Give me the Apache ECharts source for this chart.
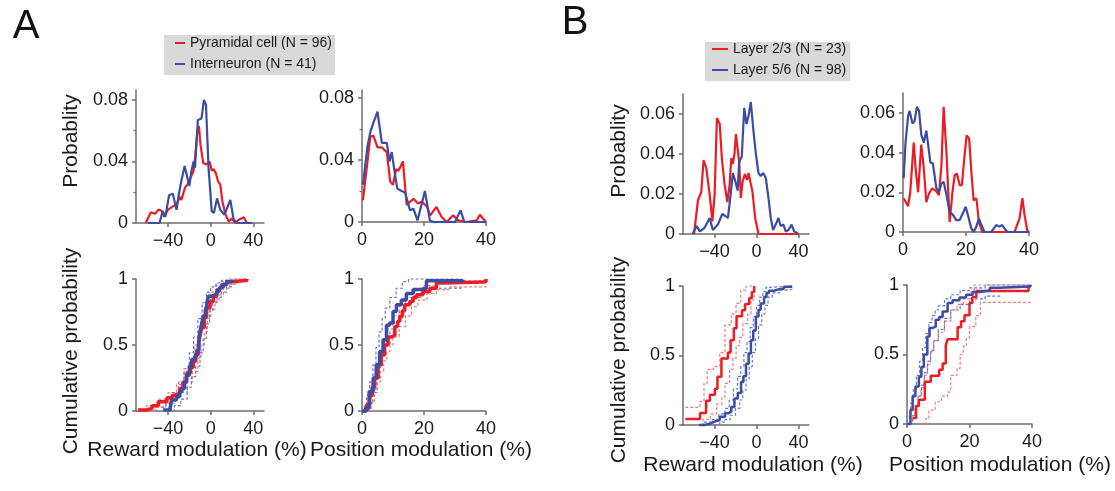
<!DOCTYPE html>
<html><head><meta charset="utf-8">
<script src="https://cdn.jsdelivr.net/npm/echarts@6/dist/echarts.min.js"></script>
<style>html,body{margin:0;padding:0;background:#fff}#c{width:1115px;height:491px}</style>
</head><body><div id="c"></div>
<script>
// ---------- tick labels ----------
const xTicksReward = [-40, 0, 40];
const xTicksPosition = [0, 20, 40];
const yTicksProbA = [0, 0.04, 0.08];
const yMinorProbA = [0.02, 0.06];
const yTicksProbB = [0, 0.02, 0.04, 0.06];
const yTicksCdf = [0, 0.5, 1];

// ---------- names ----------
const namesA = ['Pyramidal cell (N = 96)', 'Interneuron (N = 41)'];
const namesB = ['Layer 2/3 (N = 23)', 'Layer 5/6 (N = 98)'];

// ---------- Panel A: probability ----------
const aRewProbPyr = [[-61,0],[-56,0.007],[-52,0.006],[-49,0.0087],[-46,0.008],[-43.5,0.004],[-40,0.0087],[-35,0.011],[-32,0.012],[-29,0.017],[-27.5,0.015],[-24,0.023],[-21,0.026],[-16,0.034],[-15,0.04],[-12.5,0.059],[-11,0.063],[-9.5,0.051],[-7,0.039],[-4,0.038],[-1,0.04],[1,0.034],[3,0.035],[5,0.032],[7,0.027],[9,0.025],[11,0.014],[14,0.0054],[17,0.001],[20,0.003],[23,0],[26,0.002],[31,0.0037],[34,0],[37,0]];
const aRewProbInt = [[-59,0],[-48,0],[-45,0.0076],[-42.5,0.004],[-39,0.018],[-35.5,0.019],[-32,0.0086],[-30,0.018],[-27.6,0.027],[-24.4,0.037],[-22,0.03],[-20,0.024],[-18,0.034],[-16,0.04],[-14.7,0.036],[-12,0.067],[-8.6,0.068],[-6.3,0.08],[-4.4,0.077],[-2,0.036],[1,0.0076],[3,0.0065],[6,0.016],[9,0.0086],[13,0.0054],[18.4,0.015],[21.6,0.002],[25,0],[39,0]];
const aPosProbPyr = [[0.3,0.014],[2.7,0.055],[3.7,0.0555],[5,0.048],[6.4,0.048],[8,0.045],[9.1,0.026],[10,0.024],[11,0.034],[11.8,0.033],[13.2,0.039],[14.4,0.011],[16.6,0.015],[18,0.012],[19.3,0.013],[20.9,0.010],[22,0.0043],[24,0.0097],[25.7,0.0032],[27.3,0],[29.4,0.0043],[31,0.001],[33.7,0],[37,0.001],[38,0.0047],[40,0]];
const aPosProbInt = [[0.3,0.024],[1.8,0.049],[2.7,0.058],[3.7,0.064],[5,0.071],[6.4,0.051],[8,0.051],[8.9,0.039],[9.6,0.045],[10.7,0.030],[11.4,0.0215],[12.8,0.020],[13.9,0.019],[15.5,0.0075],[16.6,0.0086],[17.9,0.001],[19.3,0.012],[20.3,0.020],[21.9,0.001],[23,0],[30,0],[31.8,0.0075],[33,0],[40,0]];

// ---------- Panel A: cumulative ----------
const aRewCdfPyr = [[-68,0.008],[-60,0.02],[-55,0.04],[-49,0.07],[-41,0.1],[-36,0.12],[-33.5,0.134],[-29,0.17],[-26,0.22],[-22.6,0.286],[-19,0.33],[-16.3,0.375],[-14,0.43],[-11.6,0.5],[-10,0.57],[-8.5,0.63],[-6,0.71],[-3.8,0.78],[-0.6,0.83],[2.5,0.87],[5.6,0.905],[8,0.93],[10.3,0.957],[15,0.98],[21,0.99],[34,1]];
const aRewCdfInt = [[-44.5,0.008],[-38,0.024],[-36.7,0.084],[-32,0.11],[-29,0.146],[-27,0.17],[-24.5,0.22],[-22.6,0.27],[-20,0.34],[-17.9,0.39],[-15,0.415],[-13,0.46],[-11,0.54],[-10,0.6],[-8.5,0.66],[-6.9,0.72],[-5,0.76],[-3.8,0.8],[-2.2,0.87],[0.9,0.88],[4,0.89],[6,0.92],[8.8,0.94],[12,0.96],[15,0.98],[20,0.99]];
const aRewBandPyrHi = [[-68,0.015],[-60,0.04],[-50,0.09],[-40,0.14],[-32,0.2],[-25,0.3],[-20,0.38],[-15,0.5],[-12,0.6],[-8,0.72],[-4,0.84],[0,0.9],[5,0.95],[10,0.98],[15,1],[34,1]];
const aRewBandPyrLo = [[-62,0],[-52,0.03],[-42,0.06],[-34,0.1],[-28,0.14],[-22,0.22],[-17,0.3],[-12,0.4],[-9,0.5],[-6,0.6],[-3,0.7],[0,0.77],[4,0.83],[8,0.88],[12,0.93],[18,0.96],[25,0.98],[35,0.99]];
const aRewBandIntHi = [[-46,0.03],[-42,0.08],[-36,0.14],[-30,0.22],[-25,0.32],[-20,0.44],[-16,0.56],[-12,0.7],[-8,0.82],[-4,0.9],[0,0.94],[5,0.97],[10,0.99],[15,1],[25,1]];
const aRewBandIntLo = [[-40,0],[-34,0.04],[-28,0.09],[-22,0.18],[-18,0.26],[-14,0.34],[-10,0.44],[-7,0.55],[-4,0.66],[-1,0.76],[2,0.82],[6,0.86],[10,0.9],[15,0.94],[20,0.96]];
const aPosCdfPyr = [[0.3,0],[1.4,0.045],[2.5,0.12],[3.3,0.18],[4.1,0.25],[5.2,0.35],[6.2,0.425],[7.3,0.5],[8.4,0.56],[9.5,0.575],[10.6,0.64],[11.5,0.68],[12.2,0.716],[13,0.76],[13.8,0.805],[15.4,0.83],[16.5,0.86],[17.6,0.88],[19.7,0.906],[21.9,0.93],[24,0.97],[26,0.977],[39,0.98],[40,1]];
const aPosCdfInt = [[0,0],[1.2,0.02],[2.3,0.147],[3.6,0.25],[4.6,0.35],[5.7,0.45],[6.8,0.54],[7.9,0.65],[8.9,0.666],[10,0.754],[11.1,0.805],[12.7,0.84],[14.3,0.89],[16.5,0.92],[19,0.93],[20.8,0.987],[32.6,0.995]];
const aPosBandPyrHi = [[1,0.02],[2,0.1],[3,0.18],[4,0.28],[5,0.38],[6,0.47],[7,0.55],[8,0.62],[10,0.72],[12,0.8],[14,0.86],[17,0.92],[20,0.95],[24,0.98],[30,0.99],[40,1]];
const aPosBandPyrLo = [[2,0],[3,0.06],[4,0.14],[5,0.22],[6,0.3],[7,0.38],[8,0.45],[9,0.5],[10,0.56],[12,0.64],[14,0.72],[16,0.79],[18,0.84],[21,0.89],[24,0.92],[28,0.94],[40,0.95]];
const aPosBandIntHi = [[0.5,0.03],[1.5,0.12],[2.5,0.22],[3.5,0.35],[4.5,0.48],[5.5,0.6],[6.5,0.7],[7.5,0.78],[9,0.86],[11,0.93],[13,0.98],[15,1],[32,1]];
const aPosBandIntLo = [[1.5,0],[2.5,0.06],[3.5,0.14],[4.5,0.24],[5.5,0.33],[6.5,0.42],[7.5,0.5],[9,0.6],[10.5,0.68],[12,0.75],[14,0.81],[16,0.86],[19,0.9],[22,0.93],[32,0.94]];

// ---------- Panel B: probability ----------
const bRewProbL23 = [[-59.5,0],[-55.7,0.017],[-54,0.016],[-52.6,0.021],[-50.4,0.037],[-47.8,0.033],[-44.6,0.0197],[-42,0.0063],[-39.9,0.0197],[-37.7,0.058],[-35,0.055],[-33,0.038],[-30.4,0.0247],[-27.8,0.016],[-25.6,0.0247],[-24,0.038],[-22.5,0.035],[-21,0.04],[-19.6,0.05],[-18,0.049],[-16.5,0.036],[-14.9,0.018],[-13.3,0.026],[-11,0.03],[-9,0.027],[-7.6,0.0305],[-6,0.0305],[-3.8,0.021],[-1.3,0.008],[1.9,0],[40,0]];
const bRewProbL56 = [[-61,0],[-57,0.004],[-54,0.0013],[-49.6,0.003],[-44.6,0.008],[-41.6,0.002],[-36.8,0.0047],[-32.6,0.01],[-29.7,0.009],[-27.2,0.008],[-25,0.018],[-22.5,0.0305],[-20,0.026],[-18,0.0217],[-16.5,0.036],[-14,0.0388],[-11.7,0.063],[-9.5,0.055],[-7.6,0.059],[-5.4,0.066],[-3.2,0.053],[-0.6,0.04],[1.9,0.0305],[4,0.029],[6.3,0.0305],[8.9,0.028],[11.4,0.018],[13.6,0.008],[15.8,0.002],[18.3,0.0047],[20.9,0.008],[23,0.004],[25.6,0.0047],[27.8,0.0013],[30.4,0.002],[33.5,0.0047],[35.8,0.0013],[40,0]];
const bPosProbL23 = [[0.2,0.017],[0.8,0.018],[1.6,0.013],[2.3,0.02],[3.4,0.045],[4,0.032],[4.8,0.02],[5.8,0.044],[6.6,0.032],[7.4,0.015],[8.3,0.0195],[9.3,0.022],[10.6,0.0205],[11.4,0.0186],[12.2,0.0336],[12.9,0.063],[13.8,0.04],[14.8,0.005],[15.7,0.02],[16.4,0.0286],[17.1,0.0294],[18,0.0236],[18.7,0.0236],[19.5,0.0378],[20.2,0.0487],[21,0.047],[21.7,0.0303],[22.4,0.016],[23.3,0.017],[24.1,0.005],[25.2,0],[35.4,0],[37,0.0069],[37.9,0.017],[38.6,0.0085],[39.4,0.001],[40,0]];
const bPosProbL56 = [[0.2,0.027],[0.8,0.045],[1.6,0.058],[2.1,0.061],[3,0.0546],[3.7,0.056],[4.4,0.063],[5.1,0.061],[5.8,0.049],[6.6,0.045],[7.4,0.051],[7.9,0.045],[8.7,0.035],[9.5,0.0345],[10.6,0.022],[11.4,0.0203],[12.2,0.0244],[12.9,0.0253],[13.8,0.0186],[14.8,0.0102],[15.9,0.0085],[16.9,0.006],[18,0.006],[19,0.0094],[19.9,0.0127],[20.6,0.0085],[21.7,0.0018],[22.4,0],[23.3,0.0027],[24.1,0.0069],[24.9,0.0035],[25.9,0],[28,0],[29.6,0.0035],[30.5,0.0027],[31.5,0.0035],[32.6,0.001],[33.3,0],[40,0]];

// ---------- Panel B: cumulative ----------
const bRewCdfL23 = [[-67.8,0.043],[-53.8,0.087],[-48,0.174],[-44.4,0.217],[-39.7,0.261],[-37.2,0.348],[-33.4,0.478],[-27.2,0.522],[-24.7,0.609],[-21.6,0.696],[-19,0.783],[-13.8,0.826],[-10.9,0.87],[-6.9,0.913],[-4.4,0.957],[-2.2,1]];
const bRewCdfL56 = [[-55,0],[-50,0.01],[-44,0.024],[-40,0.036],[-35,0.06],[-30,0.084],[-27,0.096],[-24,0.13],[-21,0.19],[-17.8,0.23],[-14.7,0.31],[-12.5,0.35],[-10,0.44],[-7.5,0.515],[-5.3,0.61],[-3.1,0.68],[-0.6,0.78],[1.9,0.83],[4,0.875],[7.2,0.92],[9.5,0.95],[11.9,0.966],[16.5,0.976],[21,0.98],[26,0.995],[34,1]];
const bRewBandL23Hi = [[-67.8,0.127],[-53.8,0.17],[-50,0.3],[-47,0.4],[-41,0.42],[-35,0.52],[-30,0.72],[-24,0.8],[-19.5,0.875],[-15,0.97],[-10,1],[-2,1]];
const bRewBandL23Lo = [[-57,0],[-51,0.04],[-44,0.08],[-38,0.15],[-33,0.2],[-30,0.3],[-25.6,0.4],[-22.5,0.48],[-19.4,0.57],[-16,0.63],[-13,0.73],[-8.4,0.8],[-5.3,0.9],[-2.2,1]];
const bRewBandL56Hi = [[-50,0.02],[-42,0.04],[-36,0.08],[-30,0.12],[-26,0.18],[-22,0.26],[-18,0.35],[-15,0.42],[-12,0.52],[-9,0.6],[-6,0.7],[-3,0.78],[0,0.86],[3,0.92],[6,0.96],[9,0.99],[12,1],[35,1]];
const bRewBandL56Lo = [[-40,0],[-35,0.02],[-30,0.04],[-25,0.07],[-20,0.12],[-16,0.18],[-13,0.25],[-10,0.33],[-7,0.42],[-4,0.52],[-1,0.62],[2,0.72],[5,0.8],[8,0.86],[11,0.92],[15,0.95],[22,0.97],[30,0.98],[35,0.99]];
const bPosCdfL23 = [[1.8,0.043],[2.9,0.13],[3.8,0.174],[5.7,0.304],[7.6,0.348],[10.3,0.391],[11.4,0.435],[12.4,0.565],[13,0.609],[16.2,0.696],[17.3,0.739],[18.4,0.783],[20,0.87],[20.9,0.913],[22.2,0.957],[38.9,1]];
const bPosCdfL56 = [[0,0],[1.1,0.1],[1.8,0.2],[2.7,0.27],[3.8,0.34],[4.6,0.41],[5.4,0.5],[6.5,0.63],[7.2,0.69],[8.1,0.7],[9.2,0.75],[10.3,0.77],[11.4,0.81],[13,0.87],[14.6,0.89],[16.8,0.91],[18.9,0.93],[21,0.95],[23.2,0.96],[26.5,0.98],[29.7,0.99],[39.5,1]];
const bPosBandL23Hi = [[1.5,0.04],[2.5,0.13],[3.5,0.2],[4.5,0.26],[5.5,0.35],[6.5,0.43],[7.5,0.52],[8.5,0.6],[10,0.66],[12,0.74],[14,0.82],[16,0.86],[18,0.9],[20,0.95],[21.5,1],[40,1]];
const bPosBandL23Lo = [[4,0],[6,0.04],[7,0.1],[9,0.16],[11,0.2],[13,0.23],[14,0.35],[16,0.4],[17,0.5],[18,0.56],[19,0.62],[20,0.7],[22,0.78],[23.5,0.875],[40,0.875]];
const bPosBandL56Hi = [[0.5,0.05],[1.2,0.15],[2,0.25],[3,0.35],[4,0.45],[5,0.55],[6,0.65],[7,0.73],[8,0.78],[9,0.82],[10,0.85],[12,0.9],[14,0.93],[17,0.96],[20,0.98],[25,1],[40,1]];
const bPosBandL56Lo = [[1,0],[1.8,0.06],[2.7,0.12],[3.6,0.2],[4.6,0.28],[5.6,0.37],[6.6,0.45],[7.6,0.53],[8.6,0.6],[10,0.68],[12,0.76],[14,0.82],[17,0.86],[20,0.9],[25,0.92],[30,0.93]];

// ---------- styling / layout ----------
const FONT = '"Liberation Sans", Arial, Helvetica, sans-serif';
const RED = '#ec1c24', BLUE = '#3a4da3', RED_BAND = '#f27a7a', BLUE_BAND = '#6677c4';
const AXIS = '#6e6e6e', TXT = '#1a1a1a';

const panels = [
  {grid:{left:136,top:90,width:128,height:133}, x:[-70,50], xt:xTicksReward, y:[0,0.0865], yt:yTicksProbA, ym:yMinorProbA, names:namesA, kind:'prob', red:aRewProbPyr, blue:aRewProbInt},
  {grid:{left:362,top:90,width:124,height:132}, x:[0,40], xt:xTicksPosition, y:[0,0.085], yt:yTicksProbA, ym:yMinorProbA, names:namesA, kind:'prob', red:aPosProbPyr, blue:aPosProbInt},
  {grid:{left:136,top:279,width:128,height:132}, x:[-70,50], xt:xTicksReward, y:[0,1], yt:yTicksCdf, names:namesA, kind:'cdf', w:3.5, red:aRewCdfPyr, blue:aRewCdfInt, bands:[[aRewBandPyrHi,RED_BAND],[aRewBandPyrLo,RED_BAND],[aRewBandIntHi,BLUE_BAND],[aRewBandIntLo,BLUE_BAND]]},
  {grid:{left:362,top:279,width:124,height:132}, x:[0,40], xt:xTicksPosition, y:[0,1], yt:yTicksCdf, names:namesA, kind:'cdf', w:3.5, red:aPosCdfPyr, blue:aPosCdfInt, bands:[[aPosBandPyrHi,RED_BAND],[aPosBandPyrLo,RED_BAND],[aPosBandIntHi,BLUE_BAND],[aPosBandIntLo,BLUE_BAND]]},
  {grid:{left:683,top:94,width:126,height:140}, x:[-70,50], xt:xTicksReward, y:[0,0.07], yt:yTicksProbB, names:namesB, kind:'prob', red:bRewProbL23, blue:bRewProbL56},
  {grid:{left:903,top:93,width:126,height:139}, x:[0,40], xt:xTicksPosition, y:[0,0.07], yt:yTicksProbB, names:namesB, kind:'prob', red:bPosProbL23, blue:bPosProbL56},
  {grid:{left:683,top:286,width:126,height:139}, x:[-70,50], xt:xTicksReward, y:[0,1], yt:yTicksCdf, names:namesB, kind:'cdf', w:2.5, red:bRewCdfL23, blue:bRewCdfL56, bands:[[bRewBandL23Hi,RED_BAND],[bRewBandL23Lo,RED_BAND],[bRewBandL56Hi,BLUE_BAND],[bRewBandL56Lo,BLUE_BAND]]},
  {grid:{left:907,top:285,width:125,height:139}, x:[0,40], xt:xTicksPosition, y:[0,1], yt:yTicksCdf, names:namesB, kind:'cdf', w:2.5, red:bPosCdfL23, blue:bPosCdfL56, bands:[[bPosBandL23Hi,RED_BAND],[bPosBandL23Lo,RED_BAND],[bPosBandL56Hi,BLUE_BAND],[bPosBandL56Lo,BLUE_BAND]]}
];

function fmt(v) { return v < 0 ? '\u2212' + Math.abs(v) : String(v); }

const grids = [], xAxes = [], yAxes = [], series = [];
const minorAxes = [];
panels.forEach((p, i) => {
  grids.push(Object.assign({containLabel:false}, p.grid));
  xAxes.push({
    gridIndex:i, type:'value', min:p.x[0], max:p.x[1],
    axisLine:{show:true, onZero:false, lineStyle:{color:AXIS, width:1.5}},
    axisTick:{show:true, customValues:p.xt, length:4, lineStyle:{color:AXIS, width:1.5}},
    axisLabel:{customValues:p.xt, formatter:fmt, fontSize:18, color:TXT, margin:9, fontFamily:FONT},
    splitLine:{show:false}
  });
  yAxes.push({
    gridIndex:i, type:'value', min:p.y[0], max:p.y[1],
    axisLine:{show:true, onZero:false, lineStyle:{color:AXIS, width:1.5}},
    axisTick:{show:true, customValues:p.yt, length:4, lineStyle:{color:AXIS, width:1.5}},
    axisLabel:{customValues:p.yt, formatter:fmt, fontSize:18, color:TXT, margin:8, fontFamily:FONT},
    splitLine:{show:false}
  });
  if (p.ym) minorAxes.push({gridIndex:i, min:p.y[0], max:p.y[1], vals:p.ym});
  const base = {xAxisIndex:i, yAxisIndex:i, type:'line', showSymbol:false, symbol:'none', clip:false, animation:false, silent:true};
  if (p.kind === 'prob') {
    series.push(Object.assign({}, base, {name:p.names[0], data:p.red, color:RED, lineStyle:{width:2.2, color:RED}}));
    series.push(Object.assign({}, base, {name:p.names[1], data:p.blue, color:BLUE, lineStyle:{width:2.2, color:BLUE}}));
  } else {
    p.bands.forEach(b => {
      series.push(Object.assign({}, base, {name:'band', data:b[0], step:'end', color:b[1], lineStyle:{width:1.2, color:b[1], type:[3,2]}}));
    });
    series.push(Object.assign({}, base, {name:p.names[0], data:p.red, step:'end', color:RED, lineStyle:{width:p.w, color:RED}}));
    series.push(Object.assign({}, base, {name:p.names[1], data:p.blue, step:'end', color:BLUE, lineStyle:{width:p.w, color:BLUE}}));
  }
});
minorAxes.forEach(m => {
  yAxes.push({
    gridIndex:m.gridIndex, type:'value', min:m.min, max:m.max, position:'left',
    axisLine:{show:false, onZero:false}, axisLabel:{show:false}, splitLine:{show:false},
    axisTick:{show:true, customValues:m.vals, length:2.5, lineStyle:{color:AXIS, width:1.2}}
  });
});

function title(text, x, y, rot) {
  return {type:'text', x:x, y:y, rotation:rot || 0, silent:true,
    style:{text:text, fontSize:21, fontFamily:FONT, fill:TXT, textAlign:'center', textVerticalAlign:'middle'}};
}

const legendCommon = {
  orient:'vertical', selectedMode:false, icon:'rect', itemHeight:2,
  backgroundColor:'#d9d9d9', borderWidth:0,
  textStyle:{fontSize:14, fontFamily:FONT, color:TXT, lineHeight:14}
};

const option = {
  animation:false,
  backgroundColor:'#ffffff',
  grid:grids, xAxis:xAxes, yAxis:yAxes, series:series,
  legend:[
    Object.assign({}, legendCommon, {data:namesA, left:164, top:35, itemWidth:10, itemGap:7, padding:[1,3,4,11]}),
    Object.assign({}, legendCommon, {data:namesB, left:705, top:42, itemWidth:16, itemGap:7, padding:[0,4,4,7]})
  ],
  graphic:[
    {type:'text', x:26, y:27, silent:true, style:{text:'A', fontSize:40, fontFamily:FONT, fill:'#111', textAlign:'center', textVerticalAlign:'middle'}},
    {type:'text', x:575, y:23, silent:true, style:{text:'B', fontSize:40, fontFamily:FONT, fill:'#111', textAlign:'center', textVerticalAlign:'middle'}},
    title('Probablity', 71, 141, Math.PI/2),
    title('Cumulative probability', 71, 351, Math.PI/2),
    title('Probablity', 619, 151, Math.PI/2),
    title('Cumulative probability', 619, 360, Math.PI/2),
    title('Reward modulation (%)', 197, 450),
    title('Position modulation (%)', 421, 450),
    title('Reward modulation (%)', 753, 465),
    title('Position modulation (%)', 1000, 465)
  ]
};

const chart = echarts.init(document.getElementById('c'), null, {renderer:'canvas'});
chart.setOption(option);
</script></body></html>
